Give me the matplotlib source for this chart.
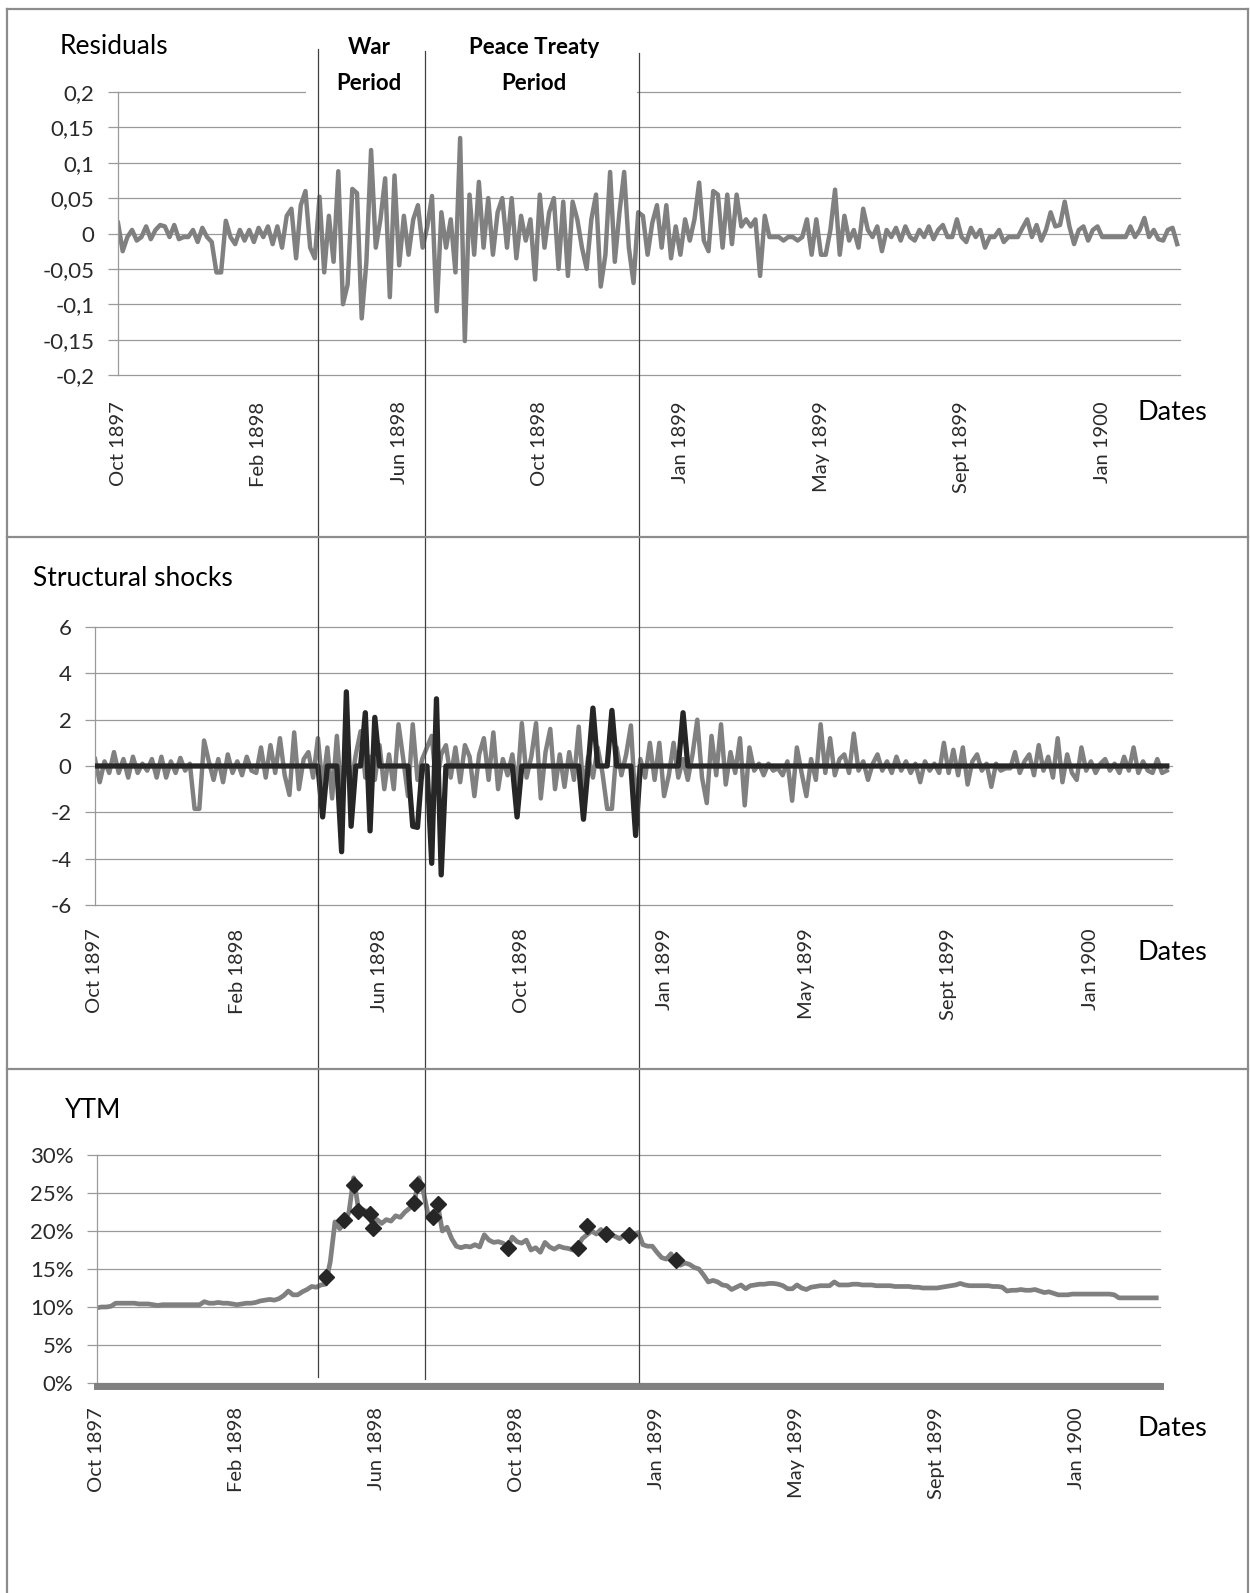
import matplotlib
matplotlib.use('Agg')
import matplotlib.pyplot as plt
import matplotlib.transforms as mtransforms
from matplotlib.lines import Line2D
from matplotlib.patches import Rectangle
import numpy as np

plt.rcParams['font.family'] = ['Lato', 'DejaVu Sans']

date_labels = ['Oct 1897', 'Feb 1898', 'Jun 1898', 'Oct 1898',
               'Jan 1899', 'May 1899', 'Sept 1899', 'Jan 1900']
label_step = 30  # observations between two date labels

residuals = [
    0.015, -0.025, -0.005, 0.005, -0.01, -0.005, 0.01, -0.008, 0.005, 0.012,
    0.01, -0.005, 0.012, -0.008, -0.005, -0.005, 0.005, -0.012, 0.008, -0.005,
    -0.012, -0.055, -0.055, 0.018, -0.005, -0.015, 0.005, -0.01, 0.005, -0.012,
    0.008, -0.005, 0.01, -0.015, 0.01, -0.02, 0.025, 0.035, -0.035, 0.04,
    0.06, -0.02, -0.035, 0.052, -0.055, 0.025, -0.04, 0.088, -0.1, -0.072,
    0.063, 0.057, -0.12, -0.04, 0.118, -0.02, 0.02, 0.078, -0.09, 0.082,
    -0.045, 0.025, -0.03, 0.02, 0.04, -0.02, 0.01, 0.053, -0.11, 0.03,
    -0.02, 0.02, -0.055, 0.135, -0.152, 0.055, -0.03, 0.073, -0.02, 0.05,
    -0.03, 0.03, 0.05, -0.02, 0.05, -0.035, 0.025, -0.01, 0.02, -0.065,
    0.055, -0.02, 0.03, 0.05, -0.05, 0.045, -0.06, 0.045, 0.02, -0.02,
    -0.05, 0.02, 0.055, -0.075, -0.03, 0.087, -0.04, 0.03, 0.087, -0.02,
    -0.07, 0.03, 0.025, -0.03, 0.015, 0.04, -0.02, 0.04, -0.035, 0.01,
    -0.03, 0.02, -0.01, 0.02, 0.072, -0.01, -0.025, 0.06, 0.055, -0.02,
    0.055, -0.015, 0.055, 0.01, 0.02, 0.01, 0.02, -0.06, 0.025, -0.005,
    -0.005, -0.005, -0.01, -0.005, -0.005, -0.01, -0.005, 0.02, -0.03, 0.02,
    -0.03, -0.03, 0.005, 0.062, -0.03, 0.025, -0.01, 0.005, -0.02, 0.035,
    0.005, -0.005, 0.01, -0.025, 0.005, -0.005, 0.008, -0.01, 0.01, -0.005,
    -0.01, 0.005, -0.005, 0.01, -0.008, 0.005, 0.012, -0.005, -0.005, 0.02,
    -0.005, -0.012, 0.008, -0.005, 0.005, -0.02, -0.005, -0.005, 0.005, -0.012,
    -0.005, -0.005, -0.005, 0.008, 0.02, -0.005, 0.012, -0.01, 0.005, 0.03,
    0.01, 0.012, 0.045, 0.01, -0.015, 0.005, 0.01, -0.01, 0.005, 0.01,
    -0.005, -0.005, -0.005, -0.005, -0.005, -0.005, 0.01, -0.005, 0.005, 0.022,
    -0.005, 0.005, -0.008, -0.01, 0.005, 0.008, -0.015,
]

shocks_all = [
    0.3, -0.7, 0.2, -0.3, 0.6, -0.3, 0.3, -0.5, 0.4, -0.3,
    0.1, -0.2, 0.3, -0.5, 0.4, -0.5, 0.2, -0.3, 0.35, -0.2,
    0.1, -1.85, -1.85, 1.1, 0.2, -0.6, 0.3, -0.7, 0.5, -0.3,
    0.2, -0.4, 0.4, -0.2, -0.3, 0.8, -0.5, 0.9, -0.3, 1.2,
    -0.4, -1.25, 1.45, -1.0, 0.3, 0.6, -0.5, 1.2, -0.9, 0.8,
    -1.4, 1.3, -1.4, 0.5, -0.8, 0.5, 1.5, -0.5, 0.4, -0.6,
    0.9, -1.0, 0.5, -1.0, 1.8, 0.3, -1.3, 1.8, -0.6, 0.3,
    0.8, 1.3, -0.9, 0.5, 0.9, -0.5, 0.8, -0.7, 0.9, 0.4,
    -1.3, 0.5, 1.2, -0.6, 1.45, -1.0, 0.3, -0.4, 0.5, -1.0,
    1.85, -0.5, 0.4, 1.85, -1.4, 0.6, 1.6, -1.0, 0.5, -0.9,
    0.6, -0.6, 1.7, -1.1, 0.4, -0.5, 0.8, -0.3, -1.85, -1.85,
    0.8, -0.4, 0.5, 1.75, -1.75, 0.3, -0.5, 1.0, -0.6, 1.0,
    -1.3, -0.4, 1.0, -0.5, 0.3, -0.6, 0.5, 2.0, -0.5, -1.6,
    1.3, -0.4, 1.8, -0.8, 0.6, -0.3, 1.2, -1.7, 0.8, -0.2,
    0.1, -0.4, 0.1, -0.2, -0.1, -0.4, 0.2, -1.5, 0.8, -0.3,
    -1.3, 0.3, -0.6, 1.8, -0.3, 1.2, -0.4, 0.3, 0.5, -0.3,
    1.4, -0.2, 0.2, -0.6, 0.1, 0.5, -0.2, 0.2, -0.3, 0.4,
    -0.2, 0.2, -0.3, 0.1, -0.7, 0.2, -0.2, 0.1, -0.3, 1.0,
    -0.3, 0.7, -0.4, 0.8, -0.8, 0.2, 0.5, -0.2, 0.1, -0.9,
    0.1, -0.2, -0.1, -0.1, 0.6, -0.3, 0.2, 0.5, -0.4, 0.9,
    -0.2, 0.4, -0.5, 1.2, -0.7, 0.5, -0.3, -0.6, 0.8, -0.2,
    0.2, -0.3, 0.1, 0.3, -0.2, 0.1, -0.3, 0.4, -0.2, 0.8,
    -0.3, 0.2, -0.2, -0.3, 0.3, -0.3, -0.2,
]

# identified structural shocks (observation slot, size); zero elsewhere
big_shock_idx = [48, 52, 53, 54, 57, 58, 59, 67, 68, 71, 72, 73, 89, 103, 105, 109, 114, 124]
big_shock_val = [-2.2, -3.7, 3.2, -2.6, 2.3, -2.8, 2.1, -2.6, -2.65, -4.2, 2.9, -4.7,
                 -2.2, -2.3, 2.5, 2.4, -3.0, 2.3]

ytm = [
    9.9, 10.0, 10.0, 10.1, 10.5, 10.5, 10.5, 10.5, 10.5, 10.4,
    10.4, 10.4, 10.3, 10.2, 10.3, 10.3, 10.3, 10.3, 10.3, 10.3,
    10.3, 10.3, 10.3, 10.7, 10.5, 10.5, 10.6, 10.5, 10.5, 10.4,
    10.3, 10.4, 10.5, 10.5, 10.6, 10.8, 10.9, 11.0, 10.9, 11.1,
    11.5, 12.1, 11.6, 11.6, 12.0, 12.3, 12.7, 12.6, 12.9, 13.0,
    16.0, 21.2, 20.3, 21.0, 22.5, 27.0, 23.0, 22.8, 22.5, 21.0,
    21.5, 21.0, 21.5, 21.3, 22.0, 21.8, 22.5, 23.0, 23.8, 27.0,
    25.0, 22.0, 21.5, 23.5, 20.0, 20.5, 19.0, 18.0, 17.8, 18.0,
    17.9, 18.2, 17.9, 19.5, 18.8, 18.5, 18.6, 18.4, 17.9, 19.2,
    18.6, 18.4, 18.8, 17.5, 17.8, 17.2, 18.5, 17.9, 17.6, 18.0,
    17.8, 17.7, 17.5, 18.0, 19.0, 19.5, 20.0, 19.6, 20.2, 19.0,
    19.5, 19.3, 19.0, 19.5, 19.6, 19.5, 19.8, 18.2, 18.0, 18.0,
    17.2, 16.5, 16.3, 17.0, 15.8, 15.5, 15.8, 15.6, 15.2, 15.0,
    14.2, 13.3, 13.5, 13.3, 12.9, 12.8, 12.3, 12.6, 12.9, 12.4,
    12.8, 12.9, 13.0, 13.0, 13.1, 13.1, 13.0, 12.8, 12.4, 12.4,
    12.9, 12.5, 12.3, 12.6, 12.7, 12.8, 12.8, 12.8, 13.3, 12.9,
    12.9, 12.9, 13.0, 13.0, 12.9, 12.9, 12.9, 12.8, 12.8, 12.8,
    12.8, 12.7, 12.7, 12.7, 12.7, 12.6, 12.6, 12.5, 12.5, 12.5,
    12.5, 12.6, 12.7, 12.8, 12.9, 13.1, 12.9, 12.8, 12.8, 12.8,
    12.8, 12.8, 12.7, 12.7, 12.6, 12.1, 12.2, 12.2, 12.3, 12.2,
    12.2, 12.3, 12.1, 11.9, 12.0, 11.8, 11.6, 11.6, 11.6, 11.7,
    11.7, 11.7, 11.7, 11.7, 11.7, 11.7, 11.7, 11.7, 11.6, 11.2,
    11.2, 11.2, 11.2, 11.2, 11.2, 11.2, 11.2, 11.2,
]

# YTM on the days of the identified shocks
ytm_mark_idx = [49, 53, 55, 56, 58.6, 59.2, 68, 68.5, 72, 73, 88, 103, 105, 109, 114, 124]
ytm_mark_val = [14.0, 21.5, 26.0, 22.6, 22.2, 20.4, 23.7, 26.1, 21.9, 23.5,
                17.8, 17.8, 20.7, 19.6, 19.5, 16.2]

res_ticks = [-0.2, -0.15, -0.1, -0.05, 0, 0.05, 0.1, 0.15, 0.2]
res_labels = ['-0,2', '-0,15', '-0,1', '-0,05', '0', '0,05', '0,1', '0,15', '0,2']
shk_ticks = [-6, -4, -2, 0, 2, 4, 6]
shk_labels = ['-6', '-4', '-2', '0', '2', '4', '6']
ytm_ticks = [0, 5, 10, 15, 20, 25, 30]
ytm_labels = ['0%', '5%', '10%', '15%', '20%', '25%', '30%']

# period boundaries, in observation slots of the shock/YTM panels
period_bounds = [47.0, 69.6, 114.7]

# ---- layout ----
W, H = 1250, 1593
GRID = '#9a9a9a'
GREY = '#808080'
DARK = '#262626'
FRAME = '#8c8c8c'

fig = plt.figure(figsize=(W / 100, H / 100), dpi=100)


def px_axes(left, right, top, bottom):
    return fig.add_axes([left / W, 1 - bottom / H, (right - left) / W, (bottom - top) / H])


def style(ax, ticks, labels, xmax, xpad):
    for s in ['top', 'right']:
        ax.spines[s].set_visible(False)
    ax.spines['left'].set_color(GRID)
    ax.spines['left'].set_linewidth(0.9)
    for v in ticks:
        ax.axhline(v, color=GRID, lw=0.9, zorder=0, clip_on=False)
    ax.set_ylim(ticks[0], ticks[-1])
    ax.set_yticks(ticks)
    ax.set_yticklabels(labels, fontsize=16, color='#2a2a2a')
    ax.tick_params(axis='y', length=7, width=0.9, color=GRID, pad=10)
    ax.set_xlim(0, xmax)
    ax.set_xticks(np.arange(len(date_labels)) * label_step)
    ax.set_xticklabels(date_labels, rotation=90, fontsize=14.5, color='#2a2a2a')
    ax.tick_params(axis='x', length=0, pad=xpad)


# Residuals
ax1 = px_axes(118, 1180, 92, 375)
ax1.spines['bottom'].set_visible(False)
style(ax1, res_ticks, res_labels, 226.6, 19)
ax1.plot(np.arange(len(residuals)), residuals, color=GREY, lw=3.2, zorder=2)

# Structural shocks
ax2 = px_axes(95, 1172, 627, 905)
ax2.spines['bottom'].set_visible(False)
style(ax2, shk_ticks, shk_labels, 227.1, 17)
big = np.zeros(len(shocks_all))
big[big_shock_idx] = big_shock_val
ax2.plot(np.arange(len(shocks_all)), shocks_all, color=GREY, lw=3.2, zorder=2)
ax2.plot(np.arange(len(big)), big, color=DARK, lw=3.8, zorder=3)

# YTM: thick grey category axis at 0 %
ax3 = px_axes(97, 1160, 1155, 1383)
ax3.spines['bottom'].set_color(GREY)
ax3.spines['bottom'].set_linewidth(5)
ax3.spines['bottom'].set_position(('outward', 2.5))
style(ax3, ytm_ticks, ytm_labels, 227.8, 15)
ax3.plot(np.arange(len(ytm)), ytm, color=GREY, lw=3.4, zorder=2)
ax3.plot(ytm_mark_idx, ytm_mark_val, 'D', color=DARK, ms=8.5, ls='none', zorder=3)

# panel titles and axis names
for txt, x, y in [('Residuals', 60, 47), ('Structural shocks', 33, 578), ('YTM', 65, 1111)]:
    fig.text(x / W, 1 - y / H, txt, fontsize=19, va='center', ha='left')
for y in [412, 952, 1429]:
    fig.text(1138 / W, 1 - y / H, 'Dates', fontsize=19.5, va='center', ha='left')

# white band behind the period headings (hides the top grid line there)
fig.add_artist(Rectangle((306 / W, 1 - 102 / H), (637 - 306) / W, 75 / H,
                         transform=fig.transFigure, facecolor='white',
                         edgecolor='none', zorder=1))
for txt, x in [('War', 369), ('Peace Treaty', 534)]:
    fig.text(x / W, 1 - 47 / H, txt, fontsize=16, fontweight='bold', ha='center', va='center')
    fig.text(x / W, 1 - 83 / H, 'Period', fontsize=16, fontweight='bold', ha='center', va='center')

# period separators through all three panels
blend = mtransforms.blended_transform_factory(ax2.transData, fig.transFigure)
for b, top, bot in zip(period_bounds, [49, 51, 53], [1377, 1379, 1382]):
    fig.add_artist(Line2D([b, b], [1 - top / H, 1 - bot / H], transform=blend,
                          color='#404040', lw=0.9, zorder=2))

# panel frames
frame = [((7, 9), (1248, 9)), ((7, 9), (7, 1593)), ((1248, 9), (1248, 1593)),
         ((7, 537), (1248, 537)), ((7, 1069), (1248, 1069))]
for (x0, y0), (x1, y1) in frame:
    fig.add_artist(Line2D([x0 / W, x1 / W], [1 - y0 / H, 1 - y1 / H],
                          transform=fig.transFigure, color=FRAME, lw=1.6, zorder=2))

fig.savefig('out.png', dpi=100)
